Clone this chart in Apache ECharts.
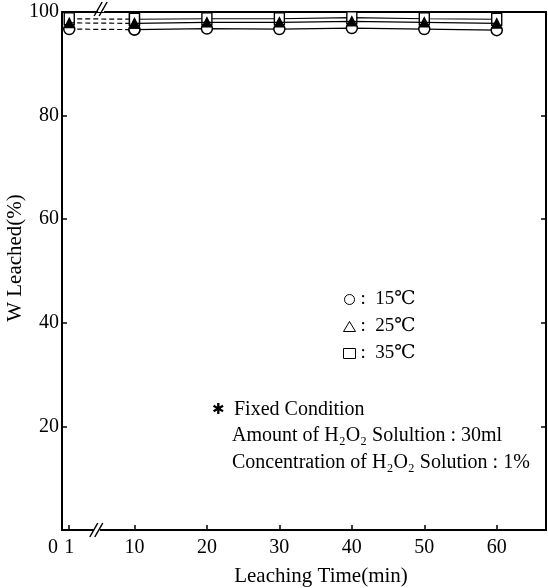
<!DOCTYPE html>
<html><head><meta charset="utf-8">
<script src="https://cdn.jsdelivr.net/npm/echarts@6/dist/echarts.min.js"></script>
<style>html,body{margin:0;padding:0;background:#fff}#c{width:548px;height:588px}</style>
</head><body><div id="c"></div>
<script>
var times = [1, 10, 20, 30, 40, 50, 60];
var w15 = [96.7, 96.6, 96.8, 96.7, 96.9, 96.7, 96.5];
var w25 = [97.9, 97.8, 98.0, 98.0, 98.2, 98.0, 97.8];
var w35 = [98.7, 98.6, 98.7, 98.7, 98.9, 98.7, 98.6];
var xTickValues = [1, 10, 20, 30, 40, 50, 60];
var xLabelValues = [0, 1, 10, 20, 30, 40, 50, 60];
var yLabelValues = [20, 40, 60, 80, 100];
var names = ['15℃', '25℃', '35℃'];

var FONT = "'Liberation Serif','DejaVu Serif',serif";
var chart = echarts.init(document.getElementById('c'), null, {renderer: 'canvas'});

function pts(arr, from, to) {
  var out = [];
  for (var i = from; i <= to; i++) out.push([times[i], arr[i]]);
  return out;
}
function mk(name, arr, symbol, size, fill, z) {
  var last = times.length - 1;
  return [
    {type: 'line', name: name, data: pts(arr, 1, last), symbol: symbol, symbolSize: size,
     showAllSymbol: true, z: z,
     itemStyle: {color: fill, borderColor: '#000', borderWidth: 1.5},
     lineStyle: {color: '#000', width: 1.2}, animation: false},
    {type: 'line', name: name, data: pts(arr, 0, 1), symbol: symbol, symbolSize: size, z: z,
     itemStyle: {color: fill, borderColor: '#000', borderWidth: 1.5},
     lineStyle: {color: '#000', width: 1.2, type: [5, 3]}, animation: false}
  ];
}
var series = [].concat(
  mk(names[0], w15, 'circle', 11, '#fff', 3),
  mk(names[1], w25, 'triangle', 9, '#000', 5),
  mk(names[2], w35, 'rect', [10, 12], '#fff', 4)
);

chart.setOption({
  animation: false,
  grid: {left: 62, top: 12, right: 2, bottom: 58, containLabel: false, outerBoundsMode: 'none'},
  legend: {
    orient: 'vertical', left: 338, top: 285, itemGap: 8,
    itemWidth: 12, itemHeight: 10, selectedMode: false,
    data: [
      {name: names[0], icon: 'circle', itemStyle: {color: '#fff', borderColor: '#000', borderWidth: 1}},
      {name: names[1], icon: 'triangle', itemStyle: {color: '#fff', borderColor: '#000', borderWidth: 1}},
      {name: names[2], icon: 'rect', itemStyle: {color: '#fff', borderColor: '#000', borderWidth: 1}}
    ],
    formatter: function (n) { return ':  ' + n; },
    textStyle: {fontFamily: FONT, fontSize: 19, color: '#000'}
  },
  xAxis: [{
    type: 'value', min: 0, max: 66.8, position: 'bottom',
    name: 'Leaching Time(min)', nameLocation: 'middle', nameGap: 36,
    nameTextStyle: {fontFamily: FONT, fontSize: 21, color: '#000', padding: [0, 0, 0, 34]},
    axisLine: {show: true, onZero: false, lineStyle: {color: '#000', width: 2}},
    axisTick: {show: true, inside: true, length: 5, customValues: xTickValues, lineStyle: {color: '#000', width: 1.5}},
    axisLabel: {customValues: xLabelValues, margin: 8, fontFamily: FONT, fontSize: 20, color: '#000',
      formatter: function (v) { return v === 0 ? '{z|0}' : String(v); },
      rich: {z: {fontFamily: FONT, fontSize: 20, color: '#000', padding: [0, 18, 0, 0]}}},
    splitLine: {show: false}
  }, {
    type: 'value', min: 0, max: 66.8, position: 'top',
    axisLine: {show: true, onZero: false, lineStyle: {color: '#000', width: 2}},
    axisTick: {show: false}, axisLabel: {show: false}, splitLine: {show: false}
  }],
  yAxis: [{
    type: 'value', min: 0, max: 100, interval: 20, position: 'left',
    name: 'W Leached(%)', nameLocation: 'middle', nameGap: 36, nameMoveOverlap: false,
    nameTextStyle: {fontFamily: FONT, fontSize: 21, color: '#000', padding: [0, 0, 0, 26]},
    axisLine: {show: true, onZero: false, lineStyle: {color: '#000', width: 2}},
    axisTick: {show: true, inside: true, length: 5, lineStyle: {color: '#000', width: 1.5}},
    axisLabel: {customValues: yLabelValues, margin: 3, fontFamily: FONT, fontSize: 20, color: '#000'},
    splitLine: {show: false}
  }, {
    type: 'value', min: 0, max: 100, interval: 20, position: 'right',
    axisLine: {show: true, onZero: false, lineStyle: {color: '#000', width: 2}},
    axisTick: {show: true, inside: true, length: 5, customValues: [20, 40, 60, 80], lineStyle: {color: '#000', width: 1.5}},
    axisLabel: {show: false}, splitLine: {show: false}
  }],
  series: series,
  graphic: [
    {id: 't0', type: 'text', left: 212, top: 403, style: {text: '✱', font: '15px ' + FONT, fill: '#000'}},
    {id: 't1', type: 'text', left: 234, top: 400, style: {text: 'Fixed Condition', font: '20px ' + FONT, fill: '#000'}},
    {id: 't2', type: 'text', left: 232, top: 426, style: {text: 'Amount of H₂O₂ Solultion : 30ml', font: '20px ' + FONT, fill: '#000'}},
    {id: 't3', type: 'text', left: 232, top: 453, style: {text: 'Concentration of H₂O₂ Solution : 1%', font: '20px ' + FONT, fill: '#000'}}
  ]
});

// axis break marks on the bottom and top axes
var pb = chart.convertToPixel({xAxisIndex: 0, yAxisIndex: 0}, [4.8, 0]);
var pt = chart.convertToPixel({xAxisIndex: 0, yAxisIndex: 0}, [5.4, 100]);
function brk(id, p, dy) {
  var x = p[0], y = p[1] + dy;
  return [
    {id: id + 'r', type: 'rect', shape: {x: x - 3, y: y - 3, width: 6, height: 6}, style: {fill: '#fff'}, z: 100},
    {id: id + 'a', type: 'line', shape: {x1: x - 7, y1: y + 7, x2: x + 1, y2: y - 7}, style: {stroke: '#000', lineWidth: 1.5}, z: 101},
    {id: id + 'b', type: 'line', shape: {x1: x - 2, y1: y + 7, x2: x + 6, y2: y - 7}, style: {stroke: '#000', lineWidth: 1.5}, z: 101}
  ];
}
chart.setOption({graphic: brk('bb', pb, 0).concat(brk('bt', pt, -3))});
</script></body></html>
